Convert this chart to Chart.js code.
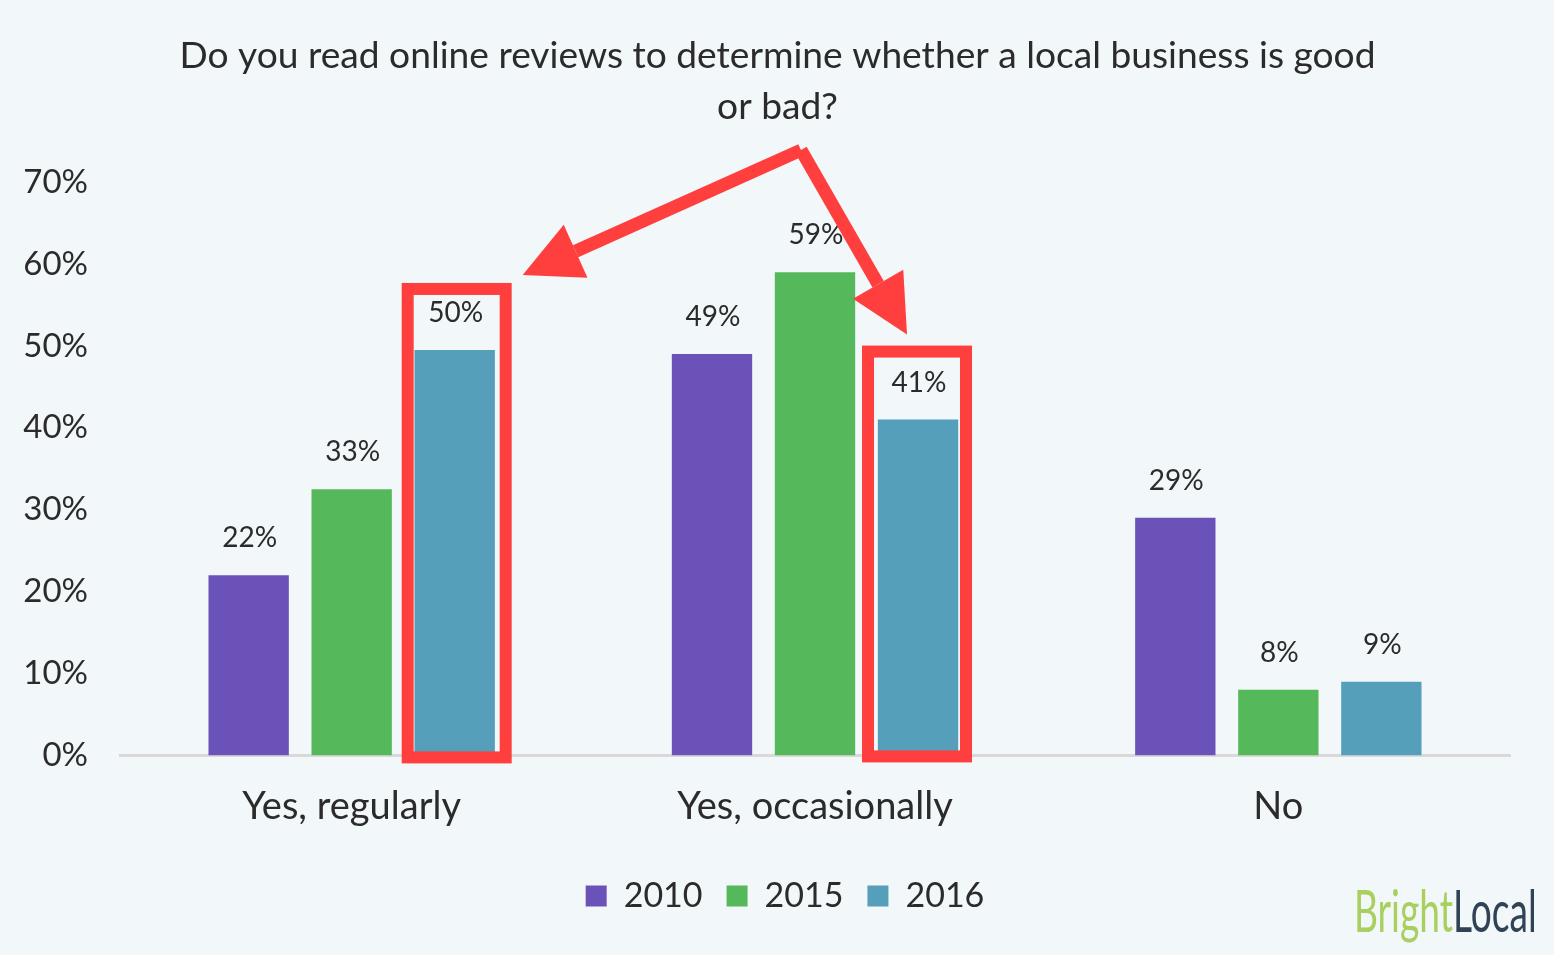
<!DOCTYPE html>
<html>
<head>
<meta charset="utf-8">
<style>
  html, body { margin: 0; padding: 0; background: #f2f7fa; }
  #wrap { width: 1554px; height: 955px; }
</style>
<script src="https://cdn.jsdelivr.net/npm/chart.js@4"></script>
</head>
<body>
<div id="wrap"><canvas id="reviewsChart" width="1554" height="955"></canvas></div>
<script>
var categories = ["Yes, regularly", "Yes, occasionally", "No"];
var years = ["2010", "2015", "2016"];
var values2010 = [22, 49, 29];
var values2015 = [32.5, 59, 8];
var values2016 = [49.5, 41, 9];
var titleLines = ["Do you read online reviews to determine whether a local business is good", "or bad?"];

var purple = "#6a52b8";
var green = "#55b95c";
var blue = "#559fbb";
var red = "#fe3f3e";
var textColor = "#2b2b2b";
var fontName = "Lato, sans-serif";

// title sits a little left of the legend's centre
var titleShift = {
  id: "titleShift",
  afterLayout: function (chart) {
    chart.titleBlock.left -= 7.5;
    chart.titleBlock.right -= 7.5;
  }
};

// value labels above each bar
var barLabels = {
  id: "barLabels",
  afterDatasetsDraw: function (chart) {
    var ctx = chart.ctx;
    ctx.save();
    ctx.font = "28px " + fontName;
    ctx.fillStyle = textColor;
    ctx.textAlign = "center";
    ctx.textBaseline = "alphabetic";
    chart.data.datasets.forEach(function (ds, i) {
      chart.getDatasetMeta(i).data.forEach(function (bar, j) {
        ctx.fillText(Math.round(ds.data[j]) + "%", bar.x + 1, bar.y - 28);
      });
    });
    ctx.restore();
  }
};

function drawArrow(ctx, fromX, fromY, toX, toY) {
  var angle = Math.atan2(toY - fromY, toX - fromX);
  var headLen = 58, headHalf = 29;
  var baseX = toX - Math.cos(angle) * headLen;
  var baseY = toY - Math.sin(angle) * headLen;
  ctx.beginPath();
  ctx.moveTo(fromX, fromY);
  ctx.lineTo(baseX, baseY);
  ctx.stroke();
  ctx.beginPath();
  ctx.moveTo(toX, toY);
  ctx.lineTo(baseX - Math.sin(angle) * headHalf, baseY + Math.cos(angle) * headHalf);
  ctx.lineTo(baseX + Math.sin(angle) * headHalf, baseY - Math.cos(angle) * headHalf);
  ctx.closePath();
  ctx.fill();
}

// red boxes and arrows are placed relative to the 2016 bars
var callouts = {
  id: "callouts",
  afterDraw: function (chart) {
    var ctx = chart.ctx;
    var meta2016 = chart.getDatasetMeta(2).data;
    var meta2015 = chart.getDatasetMeta(1).data;
    var base = chart.scales.y.getPixelForValue(0);
    var first = meta2016[0], second = meta2016[1];
    ctx.save();
    ctx.strokeStyle = red;
    ctx.fillStyle = red;
    ctx.lineWidth = 12;
    ctx.lineJoin = "miter";
    ctx.strokeRect(first.x - 47, first.y - 61, 98, base + 2 - first.y + 61);
    ctx.strokeRect(second.x - 50, second.y - 68, 98, base + 1 - second.y + 68);
    var apexX = meta2015[1].x - 14, apexY = chart.scales.y.getPixelForValue(73.9);
    ctx.lineWidth = 13;
    drawArrow(ctx, apexX, apexY, first.x + 68, first.y - 75);
    drawArrow(ctx, apexX, apexY, second.x - 11, second.y - 85);
    ctx.restore();
  }
};

// logo in the bottom corner
var logo = {
  id: "logo",
  afterDraw: function (chart) {
    var ctx = chart.ctx;
    ctx.save();
    ctx.translate(1354, 932);
    ctx.scale(0.64, 1);
    ctx.font = "58px " + fontName;
    ctx.textAlign = "left";
    ctx.textBaseline = "alphabetic";
    ctx.fillStyle = "#a9cf5f";
    ctx.fillText("Bright", 0, 0);
    var w = ctx.measureText("Bright").width;
    ctx.fillStyle = "#2f4256";
    ctx.fillText("Local", w, 0);
    ctx.restore();
  }
};

var chart = new Chart(document.getElementById("reviewsChart"), {
  type: "bar",
  data: {
    labels: categories,
    datasets: [
      { label: years[0], data: values2010, backgroundColor: purple },
      { label: years[1], data: values2015, backgroundColor: green },
      { label: years[2], data: values2016, backgroundColor: blue }
    ]
  },
  options: {
    responsive: false,
    animation: false,
    datasets: { bar: { barPercentage: 0.78, categoryPercentage: 0.667 } },
    layout: { padding: { left: 20, right: 4, top: 31, bottom: 32 } },
    plugins: {
      title: {
        display: true,
        text: titleLines,
        color: textColor,
        font: { family: fontName, size: 37.15, weight: "normal", lineHeight: 1.36 },
        padding: { top: 0, bottom: 50 }
      },
      legend: {
        position: "bottom",
        labels: {
          color: textColor,
          font: { family: fontName, size: 34 },
          boxWidth: 21,
          boxHeight: 21,
          padding: 24
        }
      },
      tooltip: { enabled: false }
    },
    scales: {
      x: {
        afterFit: function (scale) { scale.height -= 4; },
        grid: { display: false, drawTicks: false },
        border: { color: "#d9d9d9", width: 3 },
        ticks: { color: textColor, font: { family: fontName, size: 38 }, padding: 29 }
      },
      y: {
        min: 0,
        max: 70,
        afterFit: function (scale) { scale.width = 100; },
        grid: { display: false, drawTicks: false },
        border: { display: false },
        ticks: {
          stepSize: 10,
          color: textColor,
          font: { family: fontName, size: 33 },
          padding: 32,
          callback: function (v) { return v + "%"; }
        }
      },
      // empty axis only keeps the plot clear of the right edge
      spacer: {
        position: "right",
        grid: { display: false, drawTicks: false },
        border: { display: false },
        ticks: { display: false },
        afterFit: function (scale) { scale.width = 40; }
      }
    }
  },
  plugins: [titleShift, barLabels, callouts, logo]
});
</script>
</body>
</html>
